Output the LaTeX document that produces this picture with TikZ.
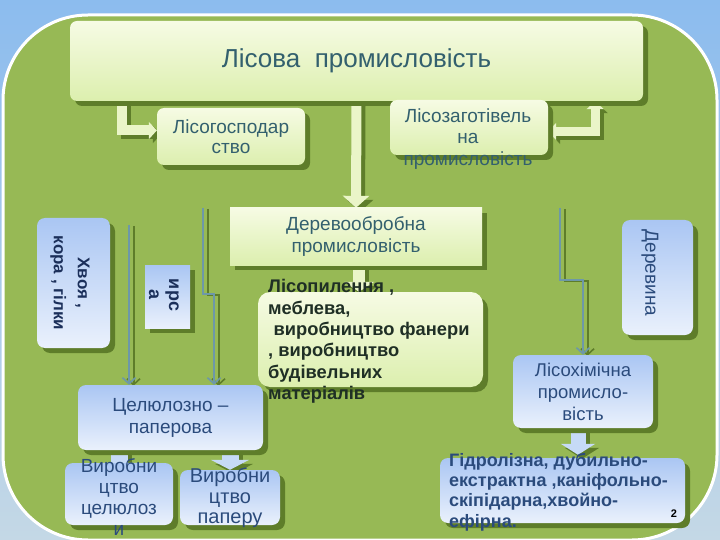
\documentclass[tikz,border=0pt]{standalone}
\usepackage{fontspec}
\setmainfont{Liberation Sans}
\usetikzlibrary{arrows.meta,shadows,calc}
\pgfdeclarelayer{back}\pgfdeclarelayer{mid}
\pgfsetlayers{back,mid,main}
\definecolor{skyT}{HTML}{8CBCEE}
\definecolor{skyB}{HTML}{C4D8E6}
\definecolor{panelgreen}{HTML}{97B955}
\definecolor{shgreen}{HTML}{5E7D2A}
\definecolor{yT}{HTML}{F6FBE4}
\definecolor{yB}{HTML}{DCEFAE}
\definecolor{yarrowc}{HTML}{EAF5C8}
\definecolor{bT}{HTML}{AAC6F3}
\definecolor{bB}{HTML}{EAF1FC}
\definecolor{barrowc}{HTML}{C6DAF6}
\definecolor{ytext}{HTML}{33606E}
\definecolor{lptext}{HTML}{1F2F25}
\definecolor{btext}{HTML}{2B4B7C}
\definecolor{navy}{HTML}{1B2F5A}
\definecolor{teal}{HTML}{6D98A8}
\newcommand\barrow[2]{\draw[#1,ashadow] #2; \draw[#1] #2;}
\newcommand\tarrow[1]{\draw[tline,tshadow] #1; \draw[tline] #1;}
\begin{document}
\begin{tikzpicture}[x=1pt,y=-1pt,
  ybox/.style={top color=yT, bottom color=yB, rounded corners=7pt, inner sep=0pt, align=center, text=ytext,
    drop shadow={shadow xshift=5pt,shadow yshift=-5pt,fill=shgreen,opacity=1}},
  bbox/.style={top color=bT, bottom color=bB, rounded corners=8pt, inner sep=0pt, align=center, text=btext,
    drop shadow={shadow xshift=5pt,shadow yshift=-5pt,fill=shgreen,opacity=1}},
  txt/.style={inner sep=0pt, align=center},
  yarr/.style={draw=yarrowc, line width=#1, line join=miter},
  barr/.style={draw=barrowc, line width=#1, line join=miter},
  ashadow/.style={draw=shgreen, transform canvas={shift={(4pt,-4pt)}}},
  tline/.style={draw=teal, line width=2pt, -{Straight Barb[length=6pt,width=13pt,line width=1.6pt]}},
  tshadow/.style={draw=shgreen, transform canvas={shift={(4.5pt,-1pt)}}}
]
\useasboundingbox (0,0) rectangle (720,540);
\begin{pgfonlayer}{back}
\shade[top color=skyT, bottom color=skyB] (0,0) rectangle (720,540);
\draw[white, line width=3pt, fill=panelgreen, rounded corners=85pt] (3,15) rectangle (717,540);
\end{pgfonlayer}

% yellow boxes
\node[ybox, minimum width=573pt, minimum height=80pt, font=\fontsize{26}{30}\selectfont] (title) at (356.5,61) {Лісова\ \ промисловість};
\node[ybox, minimum width=148pt, minimum height=57pt, font=\fontsize{19}{20}\selectfont] (lg) at (231,136.5) {Лісогосподар\\ство};
\node[ybox, minimum width=158pt, minimum height=55pt] (lz) at (469,127.5) {};
\node[txt, text=ytext, font=\fontsize{19}{21.5}\selectfont] (lzt) at (468,139) {Лісозаготівель\\на\\промисловість};
\node[ybox, rounded corners=0pt, minimum width=252pt, minimum height=57pt, font=\fontsize{19}{22}\selectfont] (dp) at (356,236.5) {Деревообробна\\промисловість};
\node[ybox, rounded corners=12pt, minimum width=225pt, minimum height=95pt] (lp) at (370.5,339.5) {};
\node[txt, align=left, anchor=west, text=lptext, font=\bfseries\fontsize{18.3}{21.4}\selectfont] (lpt) at (268,341.5)
  {Лісопилення ,\\меблева,\\\hspace*{0.3em}виробництво фанери\\, виробництво\\будівельних\\матеріалів};

% blue boxes
\node[bbox, minimum width=73pt, minimum height=130pt] (xv) at (73.5,283) {};
\node[txt, rotate=-90, text=navy, font=\bfseries\fontsize{17}{24}\selectfont] (xvt) at (70,283) {Хвоя ,\\кора , гілки};
\node[bbox, rounded corners=0pt, minimum width=45pt, minimum height=63pt] (ts) at (167.5,296.5) {};
\node[txt, rotate=-90, text=navy, font=\bfseries\fontsize{18}{20}\selectfont] (tst) at (164,295) {ирс\\а};
\node[bbox, minimum width=71pt, minimum height=115pt] (dv) at (657.5,277.5) {};
\node[txt, rotate=-90, text=btext, font=\fontsize{19}{22}\selectfont] (dvt) at (650,273) {Деревина};
\node[bbox, minimum width=140pt, minimum height=73pt, font=\fontsize{18.5}{22}\selectfont] (lh) at (583,391.5) {Лісохімічна\\промисло-\\вість};
\node[bbox, minimum width=245pt, minimum height=65pt] (gd) at (562.5,490.5) {};
\node[txt, align=left, anchor=west, text=btext, font=\bfseries\fontsize{18}{20.3}\selectfont] (gdt) at (449,492)
  {Гідролізна, дубильно-\\екстрактна ,каніфольно-\\скіпідарна,хвойно-\\ефірна.};
\node[txt, font=\bfseries\fontsize{11}{12}\selectfont] (pg) at (674,514) {2};
\node[bbox, minimum width=185pt, minimum height=65pt, font=\fontsize{19}{22}\selectfont] (cp) at (170.5,417.5) {Целюлозно –\\паперова};
\node[bbox, minimum width=108pt, minimum height=62pt] (vc) at (119,494) {};
\node[txt, text=btext, font=\fontsize{19}{21}\selectfont] (vct) at (119,497.5) {Виробни\\цтво\\целюлоз\\и};
\node[bbox, minimum width=100pt, minimum height=55pt] (vp) at (230,497.5) {};
\node[txt, text=btext, font=\fontsize{20}{20.5}\selectfont] (vpt) at (230,498) {Виробни\\цтво\\паперу};

\coordinate (a1) at (129,225);
\coordinate (b1) at (203,208);
\coordinate (c1) at (560,208);

\begin{pgfonlayer}{mid}
\barrow{yarr=10pt, -{Triangle[width=17pt,length=8pt]}}{([xshift=52pt]title.south west) |- ([yshift=6pt]lg.west)}
\barrow{yarr=9pt, {Triangle[width=17pt,length=8pt]}-{Triangle[width=17pt,length=8pt]}}{([yshift=-4pt]lz.east) -| ([xshift=-48pt]title.south east)}
\barrow{yarr=10pt, -{Triangle[width=26pt,length=12pt]}}{(title.south) -- (dp.north)}
\barrow{yarr=12pt, -{Triangle[width=30pt,length=10pt]}}{([xshift=3pt]dp.south) -- ([xshift=3pt]dp.south |- lp.north)}
\barrow{barr=15pt, -{Triangle[width=34pt,length=11pt]}}{([xshift=-5pt]lh.south) -- ([xshift=-5pt,yshift=3pt]lh.south |- gd.north)}
\barrow{barr=17pt, -{Triangle[width=36pt,length=10pt]}}{(cp.south -| vc.north) -- ([yshift=-10pt]vc.north)}
\barrow{barr=17pt, -{Triangle[width=38pt,length=10pt]}}{(cp.south -| vp.north) -- (vp.north)}
\tarrow{(a1) -- (a1 |- cp.north)}
\tarrow{(b1) -- ++(0,86) -| ([xshift=43.5pt]cp.north)}
\tarrow{(c1) -- ++(0,72) -| (lh.north)}
\end{pgfonlayer}
\end{tikzpicture}
\end{document}
